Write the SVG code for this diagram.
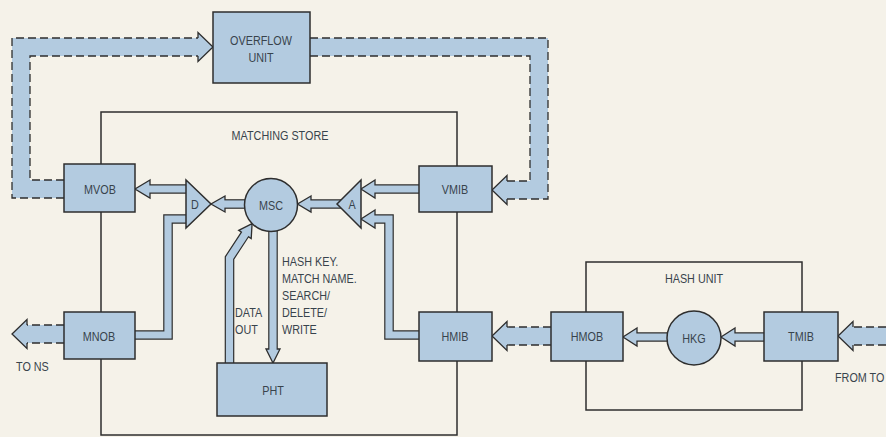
<svg xmlns="http://www.w3.org/2000/svg" width="886" height="437" viewBox="0 0 886 437">
<style>
.bg{fill:#f5f2e9}
.box{fill:#b3cbe0;stroke:#2e2e2e;stroke-width:1.5}
.frame{fill:none;stroke:#2e2e2e;stroke-width:1.5}
.tb{fill:none;stroke:#2e2e2e;stroke-width:9.6;stroke-linejoin:miter}
.ti{fill:none;stroke:#b3cbe0;stroke-width:7.2;stroke-linejoin:miter}
.th{fill:#b3cbe0;stroke:#2e2e2e;stroke-width:1.3;stroke-linejoin:miter}
.wb{fill:none;stroke:#b3cbe0;stroke-width:18;stroke-linejoin:miter}
.dl{fill:none;stroke:#2e2e2e;stroke-width:1.3;stroke-dasharray:8 4}
.t{font-family:"Liberation Sans",Arial,sans-serif;font-size:13.5px;fill:#38434c}
.c{text-anchor:middle}
</style>
<rect class="bg" x="0" y="0" width="886" height="437"/>

<g id="frames">
<rect id="matching-store" class="frame" x="101" y="112" width="356" height="323"/>
<text class="t c" transform="translate(280 140) scale(0.8 1)">MATCHING STORE</text>
<rect id="hash-unit" class="frame" x="586" y="262" width="216" height="148"/>
<text class="t c" transform="translate(694 283) scale(0.8 1)">HASH UNIT</text>
</g>

<g id="connectors">
<path class="wb" d="M70 189 H21 V47 H199"/>
<path class="dl" d="M64 180 H30 V56 H198"/>
<path class="dl" d="M64 198 H12 V38 H198"/>
<polyline class="th" points="198,38 198,32.5 213,47 198,61.5 198,56"/>

<path class="wb" d="M305 47 H539 V190 H506"/>
<path class="dl" d="M310 38 H548 V199 H507"/>
<path class="dl" d="M310 56 H530 V181 H507"/>
<polyline class="th" points="507,181 507,175.5 492,190 507,204.5 507,199"/>

<path class="wb" d="M70 334 H26"/>
<path class="dl" d="M64 325 H27"/>
<path class="dl" d="M64 343 H27"/>
<polyline class="th" points="27,325 27,319.5 12,334 27,348.5 27,343"/>

<path class="wb" d="M556 336 H506"/>
<path class="dl" d="M551 327 H507"/>
<path class="dl" d="M551 345 H507"/>
<polyline class="th" points="507,327 507,321.5 492,336 507,350.5 507,345"/>

<path class="wb" d="M890 336 H852"/>
<path class="dl" d="M886 327 H853"/>
<path class="dl" d="M886 345 H853"/>
<polyline class="th" points="853,327 853,321.5 838,336 853,350.5 853,345"/>

<path class="tb" d="M188 189 H150"/>
<polygon class="th" points="150,180 135,189 150,198"/>
<path class="ti" d="M188 189 H148.5"/>

<path class="tb" d="M255 204 H225"/>
<polygon class="th" points="225,196 211,204 225,212"/>
<path class="ti" d="M255 204 H223.5"/>

<path class="tb" d="M345 204 H311"/>
<polygon class="th" points="311,196 297.5,204 311,212"/>
<path class="ti" d="M345 204 H309.5"/>

<path class="tb" d="M425 189 H375"/>
<polygon class="th" points="375,180 361,189 375,198"/>
<path class="ti" d="M425 189 H373.5"/>

<path class="tb" d="M425 335 H389 V219 H375"/>
<polygon class="th" points="375,210 361,219 375,228"/>
<path class="ti" d="M425 335 H389 V219 H373.5"/>

<path class="tb" d="M189 219 H168 V335 H130"/>
<path class="ti" d="M189 219 H168 V335 H130"/>

<path class="tb" d="M273 226 V349"/>
<polygon class="th" points="266,349 273,363 280,349"/>
<path class="ti" d="M273 226 V350.5"/>

<path class="tb" d="M229.5 368 V258 L244.95 234.46"/>
<polygon class="th" points="251.2,238.6 252.1,223.6 238.7,230.3"/>
<path class="ti" d="M229.5 368 V258 L245.8 233.2"/>

<path class="tb" d="M672 337 H637"/>
<polygon class="th" points="637,328 623,337 637,346"/>
<path class="ti" d="M672 337 H635.5"/>

<path class="tb" d="M770 337 H735"/>
<polygon class="th" points="735,328 721,337 735,346"/>
<path class="ti" d="M770 337 H733.5"/>
</g>

<g id="labels">
<text class="t" transform="translate(16 371) scale(0.8 1)">TO NS</text>
<text class="t" transform="translate(235 317) scale(0.8 1)">DATA</text>
<text class="t" transform="translate(235 334) scale(0.8 1)">OUT</text>
<text class="t" transform="translate(282 266) scale(0.8 1)">HASH KEY.</text>
<text class="t" transform="translate(282 283) scale(0.8 1)">MATCH NAME.</text>
<text class="t" transform="translate(282 300) scale(0.8 1)">SEARCH/</text>
<text class="t" transform="translate(282 317) scale(0.8 1)">DELETE/</text>
<text class="t" transform="translate(282 334) scale(0.8 1)">WRITE</text>
<text class="t" transform="translate(835 382) scale(0.8 1)">FROM TO</text>
</g>

<g id="overflow-unit"><rect class="box" x="213" y="12" width="97" height="71"/>
<text class="t c" transform="translate(261 45) scale(0.8 1)">OVERFLOW</text><text class="t c" transform="translate(261 62) scale(0.8 1)">UNIT</text></g>
<g id="mvob"><rect class="box" x="64" y="164" width="71" height="48"/><text class="t c" transform="translate(100 194) scale(0.8 1)">MVOB</text></g>
<g id="mnob"><rect class="box" x="64" y="312" width="71" height="47"/><text class="t c" transform="translate(99 341) scale(0.8 1)">MNOB</text></g>
<g id="vmib"><rect class="box" x="419" y="166" width="73" height="46"/><text class="t c" transform="translate(455 194) scale(0.8 1)">VMIB</text></g>
<g id="hmib"><rect class="box" x="419" y="312" width="73" height="49"/><text class="t c" transform="translate(455 341) scale(0.8 1)">HMIB</text></g>
<g id="pht"><rect class="box" x="217" y="363" width="110" height="53"/><text class="t c" transform="translate(273 395) scale(0.8 1)">PHT</text></g>
<g id="hmob"><rect class="box" x="551" y="312" width="72" height="49"/><text class="t c" transform="translate(587 341) scale(0.8 1)">HMOB</text></g>
<g id="tmib"><rect class="box" x="764" y="312" width="74" height="49"/><text class="t c" transform="translate(801 341) scale(0.8 1)">TMIB</text></g>
<g id="msc"><circle class="box" cx="271" cy="205" r="26.5"/><text class="t c" transform="translate(271 209.5) scale(0.8 1)">MSC</text></g>
<g id="hkg"><circle class="box" cx="694" cy="338" r="27"/><text class="t c" transform="translate(694 342.5) scale(0.8 1)">HKG</text></g>
<g id="d"><polygon class="box" points="186,180 186,228 211,204"/><text class="t c" transform="translate(195 208.5) scale(0.8 1)">D</text></g>
<g id="a"><polygon class="box" points="361,180 361,228 337,204"/><text class="t c" transform="translate(352 208.5) scale(0.8 1)">A</text></g>
</svg>
